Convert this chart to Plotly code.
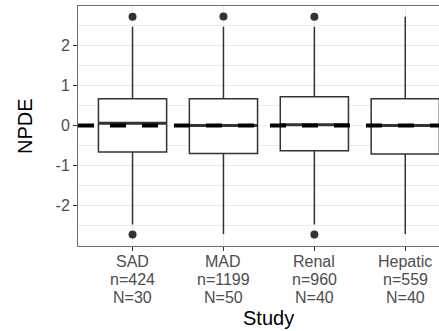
import plotly.graph_objects as go

# ---- data ----
categories = ["SAD", "MAD", "Renal", "Hepatic"]
n_obs = [424, 1199, 960, 559]
n_subj = [30, 50, 40, 40]
q1 = [-0.66, -0.70, -0.63, -0.71]
median = [0.06, 0.00, 0.02, 0.00]
q3 = [0.67, 0.67, 0.72, 0.67]
lower_whisker = [-2.47, -2.71, -2.47, -2.71]
upper_whisker = [2.47, 2.47, 2.47, 2.72]
outlier_study = ["SAD", "SAD", "MAD", "Renal", "Renal"]
outlier_npde = [2.72, -2.72, 2.73, 2.72, -2.72]
y_ticks = [-2, -1, 0, 1, 2]
y_tick_labels = ["-2", "-1", "0", "1", "2"]
reference_value = 0
x_title = "Study"
y_title = "NPDE"

# ---- styling ----
FONT = "Liberation Sans, Arial, Helvetica, sans-serif"
DARK = "#333333"
TICKTXT = "#4D4D4D"
GRID = "#EBEBEB"
BOX_W = 0.75
LINE_SPACING = 18

pos = list(range(1, len(categories) + 1))

fig = go.Figure()

fig.add_trace(go.Box(
    x=pos, q1=q1, median=median, q3=q3,
    lowerfence=lower_whisker, upperfence=upper_whisker,
    width=BOX_W, whiskerwidth=0, boxpoints=False,
    fillcolor="white", line=dict(color=DARK, width=1.5),
    showlegend=False, hoverinfo="skip",
))

# thicker median bars (ggplot fatten)
mx, my = [], []
for p, m in zip(pos, median):
    mx += [p - BOX_W / 2, p + BOX_W / 2, None]
    my += [m, m, None]
fig.add_trace(go.Scatter(x=mx, y=my, mode="lines",
                         line=dict(color=DARK, width=3),
                         showlegend=False, hoverinfo="skip"))

# outliers
ox = [pos[categories.index(s)] for s in outlier_study]
fig.add_trace(go.Scatter(x=ox, y=outlier_npde, mode="markers",
                         marker=dict(color=DARK, size=8),
                         showlegend=False, hoverinfo="skip"))

# dashed reference line at 0
fig.add_shape(type="line", xref="x domain", yref="y",
              x0=0, x1=1, y0=reference_value, y1=reference_value,
              line=dict(color="black", width=4, dash="16px,16px"),
              layer="above")

annotations = []
for p, c, n, N in zip(pos, categories, n_obs, n_subj):
    for k, txt in enumerate([c, f"n={n}", f"N={N}"]):
        annotations.append(dict(
            x=p, xref="x", y=0, yref="paper",
            xanchor="center", yanchor="middle",
            yshift=-(15.7 + k * LINE_SPACING),
            text=txt, showarrow=False,
            font=dict(family=FONT, size=16, color=TICKTXT)))

annotations.append(dict(
    x=(1 + len(categories)) / 2, xref="x", y=0, yref="paper",
    xanchor="center", yanchor="middle", yshift=-72,
    text=x_title, showarrow=False,
    font=dict(family=FONT, size=20, color="black")))
annotations.append(dict(
    x=0, xref="paper", y=0.5, yref="paper",
    xanchor="center", yanchor="middle", xshift=-53,
    text=y_title, textangle=-90, showarrow=False,
    font=dict(family=FONT, size=20, color="black")))

fig.update_layout(
    width=439, height=331,
    margin=dict(l=78, r=0, t=6, b=85),
    paper_bgcolor="white", plot_bgcolor="white",
    font=dict(family=FONT, size=16, color=TICKTXT),
    annotations=annotations,
    showlegend=False,
)

fig.update_xaxes(
    range=[0.4, 4.371], tickvals=pos, ticktext=categories,
    showticklabels=False,
    showgrid=True, gridcolor=GRID, gridwidth=1,
    ticks="outside", ticklen=4, tickcolor=DARK, tickwidth=1,
    showline=True, linecolor="#6E6E6E", linewidth=1, mirror=True,
    zeroline=False,
)
fig.update_yaxes(
    range=[-3.01, 2.99], tickvals=y_ticks, ticktext=y_tick_labels,
    showgrid=True, gridcolor=GRID, gridwidth=1.1,
    minor=dict(dtick=0.5, tick0=0, showgrid=True, gridcolor=GRID,
               gridwidth=0.6, ticks=""),
    ticks="outside", ticklen=4, tickcolor=DARK, tickwidth=1,
    tickfont=dict(family=FONT, size=16, color=TICKTXT),
    showline=True, linecolor="#6E6E6E", linewidth=1, mirror=False,
    zeroline=False,
)

fig.write_html("out.html")
